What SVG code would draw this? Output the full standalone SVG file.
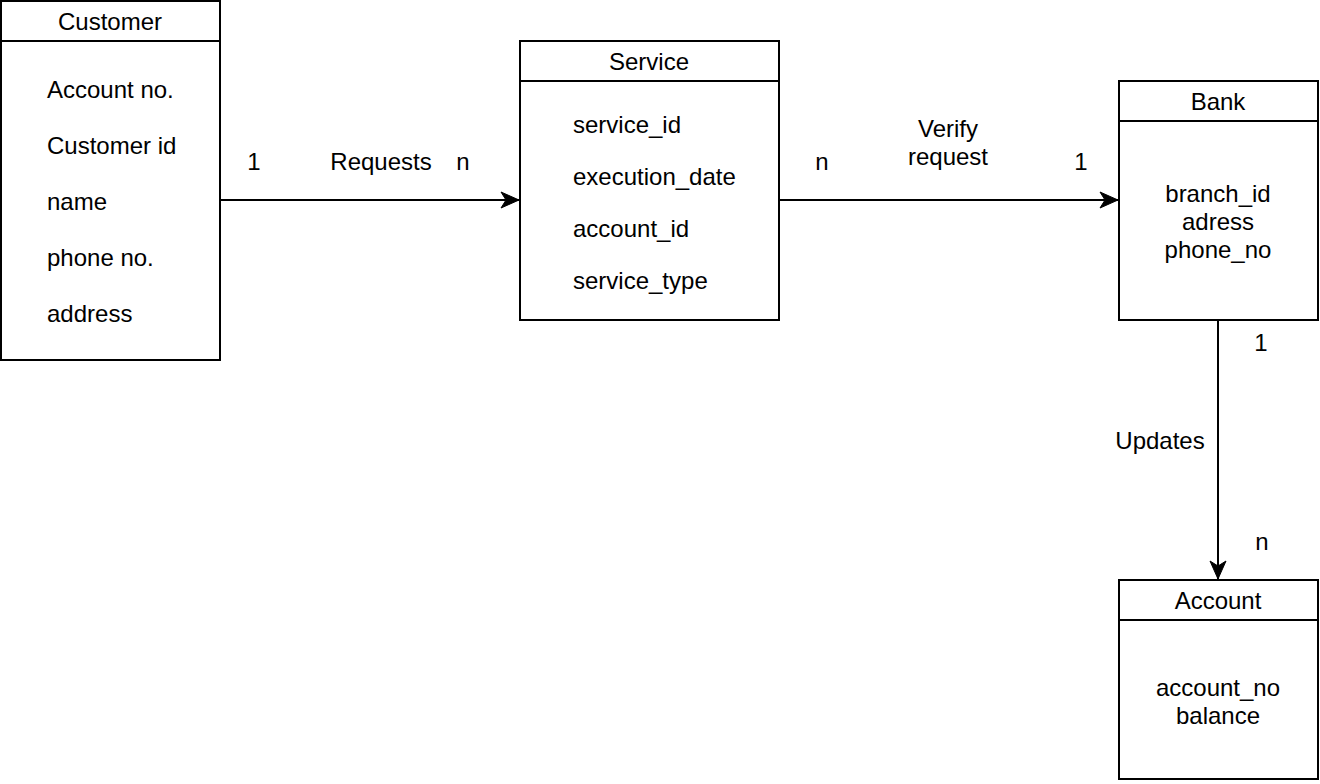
<svg xmlns="http://www.w3.org/2000/svg" width="1320" height="784" viewBox="0 0 1320 784">
<style>
.box{fill:#fff;stroke:#000;stroke-width:2}
.ln{stroke:#000;stroke-width:2;fill:none}
text{font-family:"Liberation Sans",Arial,Helvetica,sans-serif;font-size:24px;fill:#000}
.c{text-anchor:middle}
</style>
<defs>
<marker id="arr" markerUnits="userSpaceOnUse" viewBox="-20 -10 22 20" refX="0" refY="0" markerWidth="22" markerHeight="20" orient="auto">
<path d="M-18,-8 L0,0 L-18,8 L-13,0 Z" fill="#000" stroke="#000" stroke-width="1"/>
</marker>
</defs>
<rect width="1320" height="784" fill="#fff"/>
<g id="customer">
<rect class="box" x="1" y="1" width="219" height="359"/>
<line class="ln" x1="1" y1="41" x2="220" y2="41"/>
<text class="c" x="110" y="30">Customer</text>
<text x="47" y="98">Account no.</text>
<text x="47" y="154">Customer id</text>
<text x="47" y="210">name</text>
<text x="47" y="266">phone no.</text>
<text x="47" y="322">address</text>
</g>
<g id="service">
<rect class="box" x="520" y="41" width="259" height="279"/>
<line class="ln" x1="520" y1="81" x2="779" y2="81"/>
<text class="c" x="649" y="70">Service</text>
<text x="573" y="133">service_id</text>
<text x="573" y="185">execution_date</text>
<text x="573" y="237">account_id</text>
<text x="573" y="289">service_type</text>
</g>
<g id="bank">
<rect class="box" x="1119" y="81" width="199" height="239"/>
<line class="ln" x1="1119" y1="121" x2="1318" y2="121"/>
<text class="c" x="1218" y="110">Bank</text>
<text class="c" x="1218" y="202">branch_id</text>
<text class="c" x="1218" y="230">adress</text>
<text class="c" x="1218" y="258">phone_no</text>
</g>
<g id="account">
<rect class="box" x="1119" y="580" width="199" height="199"/>
<line class="ln" x1="1119" y1="620" x2="1318" y2="620"/>
<text class="c" x="1218" y="609">Account</text>
<text class="c" x="1218" y="696">account_no</text>
<text class="c" x="1218" y="724">balance</text>
</g>
<g id="connectors">
<line class="ln" x1="220" y1="200" x2="519" y2="200" marker-end="url(#arr)"/>
<line class="ln" x1="779" y1="200" x2="1118" y2="200" marker-end="url(#arr)"/>
<line class="ln" x1="1218" y1="320" x2="1218" y2="579" marker-end="url(#arr)"/>
<text class="c" x="254" y="170">1</text>
<text class="c" x="381" y="170">Requests</text>
<text class="c" x="463" y="170">n</text>
<text class="c" x="822" y="170">n</text>
<text class="c" x="948" y="137">Verify</text>
<text class="c" x="948" y="165">request</text>
<text class="c" x="1081" y="170">1</text>
<text class="c" x="1261" y="351">1</text>
<text class="c" x="1160" y="449">Updates</text>
<text class="c" x="1262" y="550">n</text>
</g>
</svg>
